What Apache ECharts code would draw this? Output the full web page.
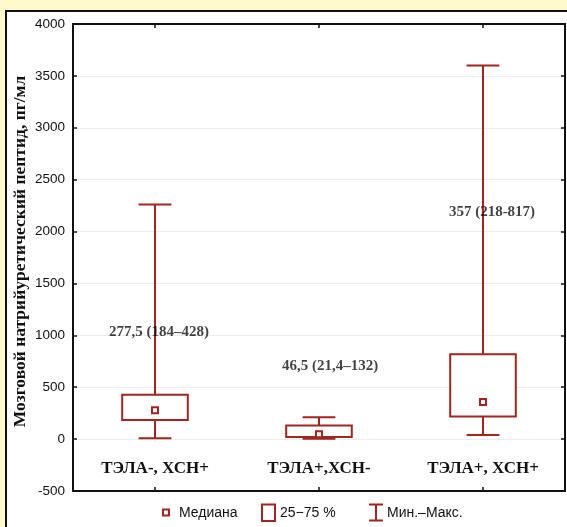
<!DOCTYPE html>
<html><head><meta charset="utf-8">
<script src="https://cdn.jsdelivr.net/npm/echarts@6/dist/echarts.min.js"></script>
<style>
html,body{margin:0;padding:0;background:#FFF9CC;width:567px;height:527px;overflow:hidden}
#panel{position:absolute;left:5px;top:10px;width:600px;height:600px;background:#fff;border:2px solid #111;box-sizing:border-box}
#chart{position:absolute;left:0;top:0;width:567px;height:527px}
</style></head><body>
<div id="panel"></div><div id="chart"></div>
<script>
const categories = ['ТЭЛА-, ХСН+', 'ТЭЛА+,ХСН-', 'ТЭЛА+, ХСН+'];
const minValues = [8, 3, 40];
const q1Values = [184, 21.4, 218];
const medianValues = [277.5, 46.5, 357];
const q3Values = [428, 132, 817];
const maxValues = [2260, 210, 3600];
const summaryLabels = ['277,5 (184–428)', '46,5 (21,4–132)', '357 (218-817)'];
const summaryLabelLevels = [1035, 705, 2185];
const yMin = -500, yMax = 4000, yStep = 500;
const yAxisTitle = 'Мозговой натрийуретический пептид, пг/мл';
const legendLabels = ['Медиана', '25−75 %', 'Мин.–Макс.'];

const BOX = '#A2261F';
const INK = '#111';
const serif = "'Liberation Serif', 'Times New Roman', serif";
const sans = "'Liberation Sans', Arial, sans-serif";

const boxData = categories.map((c, i) => [i, minValues[i], q1Values[i], medianValues[i], q3Values[i], maxValues[i]]);

function renderBox(params, api) {
  const i = api.value(0);
  const band = api.size([1, 0])[0];
  const bw = band * 0.4, cw = band * 0.2;
  const x = api.coord([i, api.value(3)])[0];
  const yMn = api.coord([i, api.value(1)])[1];
  const yQ1 = api.coord([i, api.value(2)])[1];
  const yMd = api.coord([i, api.value(3)])[1];
  const yQ3 = api.coord([i, api.value(4)])[1];
  const yMx = api.coord([i, api.value(5)])[1];
  const ls = { stroke: BOX, lineWidth: 2, fill: null };
  return {
    type: 'group',
    children: [
      { type: 'line', shape: { x1: x, y1: yMx, x2: x, y2: yQ3 }, style: ls },
      { type: 'line', shape: { x1: x, y1: yQ1, x2: x, y2: yMn }, style: ls },
      { type: 'line', shape: { x1: x - cw / 2, y1: yMx, x2: x + cw / 2, y2: yMx }, style: ls },
      { type: 'line', shape: { x1: x - cw / 2, y1: yMn, x2: x + cw / 2, y2: yMn }, style: ls },
      { type: 'rect', shape: { x: x - bw / 2, y: yQ3, width: bw, height: yQ1 - yQ3 }, style: { stroke: BOX, lineWidth: 2, fill: '#fff' } },
      { type: 'rect', shape: { x: x - 3, y: yMd - 3, width: 6, height: 6 }, style: { stroke: BOX, lineWidth: 2, fill: '#fff' } }
    ]
  };
}

const labelOffsets = [[4, 0], [11, 0], [9, 0]];

const chart = echarts.init(document.getElementById('chart'), null, { renderer: 'canvas' });
const axisLineStyle = { color: INK, width: 2 };
chart.setOption({
  animation: false,
  backgroundColor: 'transparent',
  grid: { left: 73, top: 24, right: 2, bottom: 36, containLabel: false, outerBoundsMode: 'none' },
  xAxis: [
    {
      type: 'category', data: categories, position: 'bottom', boundaryGap: true,
      axisLine: { show: true, onZero: false, lineStyle: axisLineStyle },
      axisTick: { show: true, inside: true, alignWithLabel: true, length: 4, lineStyle: { color: INK, width: 1.5 } },
      axisLabel: { show: true, inside: true, interval: 0, margin: 14, fontFamily: serif, fontWeight: 'bold', fontSize: 17, color: INK },
      splitLine: { show: false }
    },
    {
      type: 'category', data: categories, position: 'top', boundaryGap: true,
      axisLine: { show: true, onZero: false, lineStyle: axisLineStyle },
      axisTick: { show: true, inside: true, alignWithLabel: true, length: 4, lineStyle: { color: INK, width: 1.5 } },
      axisLabel: { show: false }, splitLine: { show: false }
    }
  ],
  yAxis: [
    {
      type: 'value', min: yMin, max: yMax, interval: yStep, position: 'left',
      axisLine: { show: true, onZero: false, lineStyle: axisLineStyle },
      axisTick: { show: true, inside: true, length: 4, lineStyle: { color: INK, width: 1.5 } },
      axisLabel: { margin: 8, fontFamily: sans, fontSize: 13.5, color: INK, formatter: v => String(v) },
      splitLine: { show: true, lineStyle: { color: '#ececec', width: 1 } },
      name: yAxisTitle, nameLocation: 'middle', nameGap: 44, nameMoveOverlap: false,
      nameTextStyle: { fontFamily: serif, fontWeight: 'bold', fontSize: 17.5, color: INK, padding: [0, 0, 0, 12] }
    },
    {
      type: 'value', min: yMin, max: yMax, interval: yStep, position: 'right',
      axisLine: { show: true, onZero: false, lineStyle: axisLineStyle },
      axisTick: { show: true, inside: true, length: 4, lineStyle: { color: INK, width: 1.5 } },
      axisLabel: { show: false }, splitLine: { show: false }
    }
  ],
  series: [
    {
      type: 'custom', name: 'box', xAxisIndex: 0, yAxisIndex: 0,
      renderItem: renderBox, data: boxData,
      encode: { x: 0, y: [1, 2, 3, 4, 5] }, silent: true
    },
    {
      type: 'scatter', xAxisIndex: 0, yAxisIndex: 0, symbolSize: 0, silent: true,
      data: summaryLabelLevels.map((v, i) => ({ value: [i, v], label: { offset: labelOffsets[i] } })),
      label: {
        show: true, position: 'inside',
        formatter: p => summaryLabels[p.dataIndex],
        fontFamily: serif, fontWeight: 'bold', fontSize: 15, color: INK
      }
    }
  ],
  graphic: [
    { type: 'rect', shape: { x: 163, y: 509.5, width: 6, height: 6 }, style: { stroke: BOX, lineWidth: 2, fill: '#fff' } },
    { type: 'text', x: 179, y: 513, style: { text: legendLabels[0], font: "14px 'Liberation Sans', Arial, sans-serif", fill: INK, verticalAlign: 'middle' } },
    { type: 'rect', shape: { x: 262, y: 504.5, width: 13, height: 16.5 }, style: { stroke: BOX, lineWidth: 2, fill: '#fff' } },
    { type: 'text', x: 280, y: 513, style: { text: legendLabels[1], font: "14px 'Liberation Sans', Arial, sans-serif", fill: INK, verticalAlign: 'middle' } },
    { type: 'line', shape: { x1: 369, y1: 504.5, x2: 383, y2: 504.5 }, style: { stroke: BOX, lineWidth: 2 } },
    { type: 'line', shape: { x1: 369, y1: 520.5, x2: 383, y2: 520.5 }, style: { stroke: BOX, lineWidth: 2 } },
    { type: 'line', shape: { x1: 376, y1: 504.5, x2: 376, y2: 520.5 }, style: { stroke: BOX, lineWidth: 2 } },
    { type: 'text', x: 387, y: 513, style: { text: legendLabels[2], font: "14px 'Liberation Sans', Arial, sans-serif", fill: INK, verticalAlign: 'middle' } }
  ]
});
</script>
</body></html>
